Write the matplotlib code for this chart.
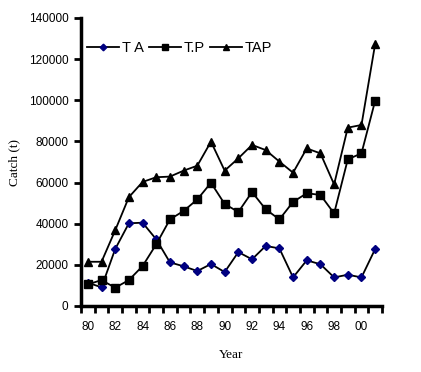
import matplotlib
matplotlib.use("Agg")
import matplotlib.pyplot as plt
import numpy as np

years = ["80", "81", "82", "83", "84", "85", "86", "87", "88", "89", "90",
         "91", "92", "93", "94", "95", "96", "97", "98", "99", "00", "01"]
ta = [11300, 9100, 27700, 40200, 40500, 32400, 21200, 19300, 17000, 20400, 16500,
      26200, 22700, 29200, 28000, 13900, 22200, 20300, 13900, 15200, 13900, 27700]
tp = [10500, 12600, 8900, 12600, 19400, 30000, 42100, 46200, 51800, 59900, 49600,
      45700, 55400, 47000, 42100, 50600, 54800, 54000, 45000, 71300, 74200, 99800]
tap = [21500, 21500, 36800, 52900, 60300, 62600, 62900, 65800, 68200, 79900, 65800,
       71800, 78300, 75800, 70200, 64800, 76600, 74200, 59100, 86700, 88000, 127400]
yticks = [0, 20000, 40000, 60000, 80000, 100000, 120000, 140000]

fig = plt.figure(figsize=(4.21, 3.72), dpi=100)
ax = fig.add_axes([81/421, 1-306/372, (382-81)/421, (306-18)/372])

x = np.arange(len(years))
ax.plot(x, ta, color="black", lw=1.3, marker="D", ms=4.5, mfc="#000080", mec="#000080", label="T A", zorder=3)
ax.plot(x, tp, color="black", lw=1.3, marker="s", ms=5.5, mfc="black", mec="black", label="T.P", zorder=3)
ax.plot(x, tap, color="black", lw=1.3, marker="^", ms=5.5, mfc="black", mec="black", label="TAP", zorder=3)

ax.set_xlim(-0.5, len(years) - 0.5)
ax.set_ylim(0, 140000)
ax.set_yticks(yticks)
ax.set_yticklabels([str(v) for v in yticks], fontsize=8.5, family="Liberation Sans")

ax.set_xticks(np.arange(len(years) + 1) - 0.5)
ax.set_xticklabels([])
ax.set_xticks(x[::2], minor=True)
ax.set_xticklabels(years[::2], minor=True, fontsize=8.5, family="Liberation Sans")
ax.tick_params(axis="x", which="major", direction="out", length=5, width=2)
ax.tick_params(axis="x", which="minor", length=0, pad=11)
ax.tick_params(axis="y", direction="out", length=5, width=2, pad=4)

for s in ["top", "right"]:
    ax.spines[s].set_visible(False)
for s in ["left", "bottom"]:
    ax.spines[s].set_linewidth(2.5)

ax.set_ylabel("Catch (t)", family="Liberation Serif", fontsize=9.5, labelpad=6)
ax.set_xlabel("Year", family="Liberation Serif", fontsize=9.5, labelpad=11)

leg = ax.legend(loc="upper left", bbox_to_anchor=(0.0, 0.94), ncol=3, frameon=False,
                prop={"family": "Liberation Sans", "size": 10.5}, handlelength=2.2,
                handletextpad=0.2, columnspacing=0.35, borderaxespad=0.0, markerscale=0.75)

fig.savefig("out.png", dpi=100)
